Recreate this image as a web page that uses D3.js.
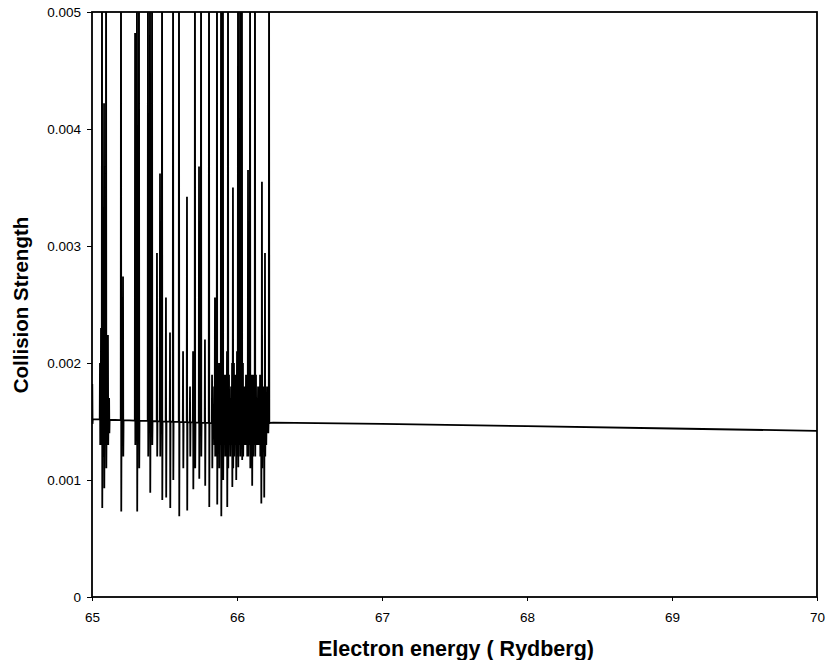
<!DOCTYPE html>
<html>
<head>
<meta charset="utf-8">
<script src="https://cdn.jsdelivr.net/npm/d3@7"></script>
<style>
  body { margin: 0; background: #fff; }
  svg { display: block; font-family: "Liberation Sans", Arial, sans-serif; }
</style>
</head>
<body>
<svg width="826" height="660"></svg>
<script>
let width = 826;
let height = 660;

// background (non-resonant) collision strength
const bgEnergy = [65.0, 65.5, 66.0, 66.25, 67.0, 68.0, 69.0, 70.0];
const bgValue  = [0.00152, 0.00150, 0.00148, 0.00149, 0.00148, 0.00146, 0.00144, 0.00142];

// main resonances: position, peak value, dip value (peaks above 0.005 are cut off)
const resEnergy = [65.002, 65.062, 65.069, 65.083, 65.097, 65.110, 65.200, 65.214, 65.297, 65.310,
  65.324, 65.386, 65.400, 65.414, 65.448, 65.469, 65.483, 65.510, 65.538, 65.559,
  65.600, 65.628, 65.655, 65.676, 65.697, 65.710, 65.738, 65.752, 65.779, 65.807,
  65.828, 65.848, 65.862, 65.876, 65.890, 65.903, 65.917, 65.931, 65.938, 65.952,
  65.966, 65.972, 65.993, 66.007, 66.021, 66.034, 66.055, 66.076, 66.090, 66.103,
  66.124, 66.145, 66.166, 66.172, 66.186, 66.193, 66.221];
const resPeak = [0.00182, 0.00230, 0.00600, 0.00422, 0.00600, 0.00224, 0.00600, 0.00274, 0.00482, 0.00600,
  0.00600, 0.00600, 0.00600, 0.00600, 0.00294, 0.00362, 0.00600, 0.00256, 0.00226, 0.00600,
  0.00600, 0.00210, 0.00342, 0.00180, 0.00210, 0.00600, 0.00368, 0.00600, 0.00220, 0.00600,
  0.00190, 0.00256, 0.00600, 0.00200, 0.00600, 0.00600, 0.00190, 0.00210, 0.00600, 0.00170,
  0.00200, 0.00350, 0.00190, 0.00600, 0.00600, 0.00600, 0.00180, 0.00365, 0.00600, 0.00190,
  0.00600, 0.00180, 0.00190, 0.00355, 0.00180, 0.00294, 0.00600];
const resDip = [0.00148, 0.00130, 0.00076, 0.00093, 0.00110, 0.00130, 0.00073, 0.00120, 0.00130, 0.00073,
  0.00110, 0.00120, 0.00089, 0.00130, 0.00120, 0.00120, 0.00083, 0.00085, 0.00076, 0.00100,
  0.00069, 0.00110, 0.00074, 0.00120, 0.00092, 0.00110, 0.00101, 0.00120, 0.00095, 0.00077,
  0.00110, 0.00120, 0.00079, 0.00110, 0.00069, 0.00100, 0.00120, 0.00077, 0.00110, 0.00120,
  0.00094, 0.00110, 0.00100, 0.00111, 0.00120, 0.00117, 0.00130, 0.00120, 0.00110, 0.00095,
  0.00120, 0.00130, 0.00080, 0.00110, 0.00085, 0.00120, 0.00148];

// small, closely packed resonances (the dark band near threshold)
const smallEnergy = [65.055, 65.076, 65.090, 65.104, 65.118, 65.842, 65.856, 65.869, 65.883, 65.896,
  65.910, 65.924, 65.945, 65.959, 65.979, 65.986, 66.000, 66.014, 66.028, 66.041,
  66.048, 66.062, 66.069, 66.083, 66.097, 66.110, 66.117, 66.131, 66.138, 66.152,
  66.159, 66.179, 66.200, 66.207, 66.214];
const smallPeak = [0.00200, 0.00220, 0.00210, 0.00190, 0.00170, 0.00180, 0.00190, 0.00180, 0.00190, 0.00200,
  0.00180, 0.00190, 0.00190, 0.00180, 0.00200, 0.00190, 0.00210, 0.00200, 0.00190, 0.00200,
  0.00180, 0.00190, 0.00180, 0.00190, 0.00180, 0.00190, 0.00180, 0.00190, 0.00170, 0.00180,
  0.00190, 0.00180, 0.00170, 0.00180, 0.00170];
const smallDip = [0.00130, 0.00120, 0.00130, 0.00130, 0.00140, 0.00130, 0.00120, 0.00130, 0.00130, 0.00120,
  0.00130, 0.00120, 0.00130, 0.00130, 0.00120, 0.00130, 0.00120, 0.00130, 0.00130, 0.00120,
  0.00130, 0.00130, 0.00120, 0.00130, 0.00130, 0.00120, 0.00130, 0.00130, 0.00130, 0.00130,
  0.00120, 0.00130, 0.00130, 0.00140, 0.00140];

const xTicks = [65, 66, 67, 68, 69, 70];
const yTicks = [0, 0.001, 0.002, 0.003, 0.004, 0.005];

const plotLeft = 92, plotRight = 817, plotTop = 12, plotBottom = 597;

const svg = d3.select("svg");

const x = d3.scaleLinear().domain([65, 70]).range([plotLeft, plotRight]);
const y = d3.scaleLinear().domain([0, 0.005]).range([plotBottom, plotTop]);
// background level at any energy
const bg = d3.scaleLinear().domain(bgEnergy).range(bgValue);

// all resonances, sorted by energy
let res = resEnergy.map((e, i) => [e, resPeak[i], resDip[i]])
  .concat(smallEnergy.map((e, i) => [e, smallPeak[i], smallDip[i]]))
  .sort((a, b) => a[0] - b[0]);

// build the curve: background, then each resonance as up-down spike
const w = 0.0018;
let pts = [[bgEnergy[0], bgValue[0]]];
res.forEach(r => {
  let e = r[0];
  pts.push([e - w, bg(e - w)]);
  pts.push([e, r[1]]);
  pts.push([e + w, r[2]]);
  pts.push([e + 2 * w, bg(e + 2 * w)]);
});
bgEnergy.forEach(e => { if (e > 66.23) pts.push([e, bg(e)]); });

svg.append("clipPath").attr("id", "plotClip")
  .append("rect")
  .attr("x", plotLeft).attr("y", plotTop)
  .attr("width", plotRight - plotLeft).attr("height", plotBottom - plotTop);

const line = d3.line().x(d => x(d[0])).y(d => y(d[1]));

svg.append("path")
  .datum(pts)
  .attr("clip-path", "url(#plotClip)")
  .attr("d", line)
  .attr("fill", "none")
  .attr("stroke", "#000")
  .attr("stroke-width", 1.8)
  .attr("stroke-linejoin", "bevel");

// frame
svg.append("rect")
  .attr("x", plotLeft).attr("y", plotTop)
  .attr("width", plotRight - plotLeft).attr("height", plotBottom - plotTop)
  .attr("fill", "none")
  .attr("stroke", "#000")
  .attr("stroke-width", 1.8);

// axes
const xAxis = svg.append("g")
  .attr("transform", `translate(0,${plotBottom})`)
  .call(d3.axisBottom(x).tickValues(xTicks).tickSize(4).tickPadding(11).tickFormat(d3.format("d")));
const yAxis = svg.append("g")
  .attr("transform", `translate(${plotLeft},0)`)
  .call(d3.axisLeft(y).tickValues(yTicks).tickSize(5).tickPadding(6)
    .tickFormat(d => d === 0 ? "0" : d3.format(".3f")(d)));

[xAxis, yAxis].forEach(g => {
  g.select(".domain").remove();
  g.selectAll("text").attr("font-size", 13.5).attr("fill", "#000")
    .attr("font-family", "'Liberation Sans', Arial, sans-serif");
  g.selectAll("line").attr("stroke", "#000");
});

// axis titles
svg.append("text")
  .attr("x", 456).attr("y", 656)
  .attr("text-anchor", "middle")
  .attr("font-size", 21.5).attr("font-weight", "bold")
  .text("Electron energy ( Rydberg)");

svg.append("text")
  .attr("transform", "translate(28,305) rotate(-90)")
  .attr("text-anchor", "middle")
  .attr("font-size", 20.5).attr("font-weight", "bold")
  .text("Collision Strength");
</script>
</body>
</html>
